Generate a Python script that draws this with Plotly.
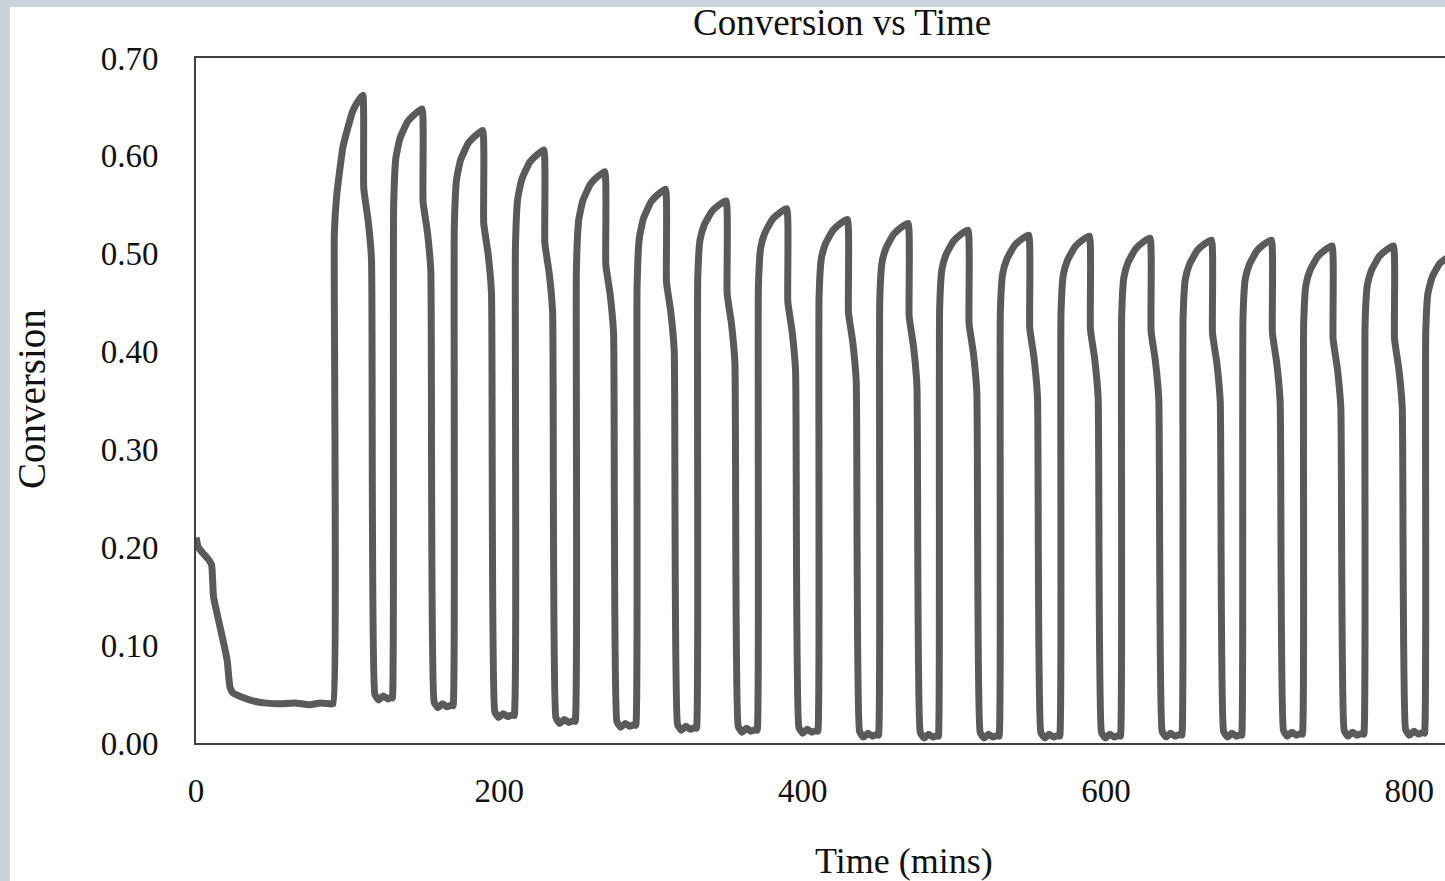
import plotly.graph_objects as go

# ---- data ----
time_min = [
    0, 1.5, 4, 8, 10.3, 11.5, 14.5, 17.8, 20.5, 22.4, 24.4, 30, 37.6, 45, 55, 65, 75, 82, 88.4,
    90.4, 91.2, 92.8, 97.0, 103.4, 107.4, 110.0, 110.6, 113.4, 115.7, 117.9, 120.4, 123.4, 126.4, 129.0,
    129.5, 130.3, 131.8, 134.5, 139.5, 144.5, 149.0, 149.7, 152.5, 154.8, 157.0, 159.5, 162.5, 165.5, 168.8,
    169.5, 170.3, 171.8, 174.5, 179.5, 184.5, 189.0, 189.7, 192.5, 194.8, 197.0, 199.5, 202.5, 205.5, 208.8,
    209.8, 210.6, 212.1, 214.8, 219.8, 224.8, 229.3, 230.0, 232.8, 235.1, 237.3, 239.8, 242.8, 245.8, 249.1,
    250.0, 250.8, 252.3, 255.0, 260.0, 265.0, 269.5, 270.2, 273.0, 275.3, 277.5, 280.0, 283.0, 286.0, 289.3,
    290.0, 290.8, 292.3, 295.0, 300.0, 305.0, 309.5, 310.2, 313.0, 315.3, 317.5, 320.0, 323.0, 326.0, 329.3,
    330.0, 330.8, 332.3, 335.0, 340.0, 345.0, 349.5, 350.2, 353.0, 355.3, 357.5, 360.0, 363.0, 366.0, 369.3,
    370.0, 370.8, 372.3, 375.0, 380.0, 385.0, 389.5, 390.2, 393.0, 395.3, 397.5, 400.0, 403.0, 406.0, 409.3,
    410.0, 410.8, 412.3, 415.0, 420.0, 425.0, 429.5, 430.2, 433.0, 435.3, 437.5, 440.0, 443.0, 446.0, 449.3,
    450.0, 450.8, 452.3, 455.0, 460.0, 465.0, 469.5, 470.2, 473.0, 475.3, 477.5, 480.0, 483.0, 486.0, 489.0,
    489.5, 490.3, 491.8, 494.5, 499.5, 504.5, 509.0, 509.7, 512.5, 514.8, 517.0, 519.5, 522.5, 525.5, 528.8,
    529.5, 530.3, 531.8, 534.5, 539.5, 544.5, 549.0, 549.7, 552.5, 554.8, 557.0, 559.5, 562.5, 565.5, 568.8,
    569.5, 570.3, 571.8, 574.5, 579.5, 584.5, 589.0, 589.7, 592.5, 594.8, 597.0, 599.5, 602.5, 605.5, 608.8,
    609.5, 610.3, 611.8, 614.5, 619.5, 624.5, 629.0, 629.7, 632.5, 634.8, 637.0, 639.5, 642.5, 645.5, 649.3,
    650.0, 650.8, 652.3, 655.0, 660.0, 665.0, 669.5, 670.2, 673.0, 675.3, 677.5, 680.0, 683.0, 686.0, 689.0,
    689.5, 690.3, 691.8, 694.5, 699.5, 704.5, 709.0, 709.7, 712.5, 714.8, 717.0, 719.5, 722.5, 725.5, 728.8,
    729.5, 730.3, 731.8, 734.5, 739.5, 744.5, 749.0, 749.7, 752.5, 754.8, 757.0, 759.5, 762.5, 765.5, 769.3,
    770.0, 770.8, 772.3, 775.0, 780.0, 785.0, 789.5, 790.2, 793.0, 795.3, 797.5, 800.0, 803.0, 806.0, 809.3,
    810.0, 810.8, 812.3, 815.0, 820.0, 826.0,
]

conversion = [
    0.210, 0.200, 0.195, 0.188, 0.182, 0.150, 0.128, 0.105, 0.085, 0.057, 0.051, 0.047, 0.043, 0.041, 0.040, 0.041, 0.039, 0.041, 0.040,
    0.040, 0.520, 0.560, 0.610, 0.646, 0.657, 0.662, 0.567, 0.535, 0.495, 0.050, 0.044, 0.048, 0.045, 0.047,
    0.046, 0.548, 0.598, 0.618, 0.635, 0.643, 0.648, 0.553, 0.523, 0.483, 0.042, 0.036, 0.040, 0.037, 0.039,
    0.038, 0.526, 0.576, 0.596, 0.613, 0.621, 0.626, 0.531, 0.501, 0.461, 0.032, 0.026, 0.030, 0.027, 0.029,
    0.028, 0.506, 0.556, 0.576, 0.593, 0.601, 0.606, 0.511, 0.481, 0.441, 0.026, 0.020, 0.024, 0.021, 0.023,
    0.022, 0.484, 0.534, 0.554, 0.571, 0.579, 0.584, 0.489, 0.459, 0.419, 0.022, 0.016, 0.020, 0.017, 0.019,
    0.018, 0.466, 0.516, 0.536, 0.553, 0.561, 0.566, 0.471, 0.441, 0.401, 0.019, 0.013, 0.017, 0.014, 0.016,
    0.015, 0.474, 0.514, 0.529, 0.543, 0.550, 0.554, 0.459, 0.429, 0.389, 0.017, 0.011, 0.015, 0.012, 0.014,
    0.013, 0.466, 0.506, 0.521, 0.535, 0.542, 0.546, 0.451, 0.421, 0.381, 0.016, 0.010, 0.014, 0.011, 0.013,
    0.012, 0.455, 0.495, 0.510, 0.524, 0.531, 0.535, 0.440, 0.410, 0.370, 0.012, 0.006, 0.010, 0.007, 0.009,
    0.008, 0.451, 0.491, 0.506, 0.520, 0.527, 0.531, 0.436, 0.406, 0.366, 0.011, 0.005, 0.009, 0.006, 0.008,
    0.007, 0.444, 0.484, 0.499, 0.513, 0.520, 0.524, 0.429, 0.399, 0.359, 0.011, 0.005, 0.009, 0.006, 0.008,
    0.007, 0.439, 0.479, 0.494, 0.508, 0.515, 0.519, 0.424, 0.394, 0.354, 0.011, 0.005, 0.009, 0.006, 0.008,
    0.007, 0.438, 0.478, 0.493, 0.507, 0.514, 0.518, 0.423, 0.393, 0.353, 0.011, 0.005, 0.009, 0.006, 0.008,
    0.007, 0.436, 0.476, 0.491, 0.505, 0.512, 0.516, 0.421, 0.391, 0.351, 0.012, 0.006, 0.010, 0.007, 0.009,
    0.008, 0.434, 0.474, 0.489, 0.503, 0.510, 0.514, 0.419, 0.389, 0.349, 0.012, 0.006, 0.010, 0.007, 0.009,
    0.008, 0.434, 0.474, 0.489, 0.503, 0.510, 0.514, 0.419, 0.389, 0.349, 0.013, 0.007, 0.011, 0.008, 0.010,
    0.009, 0.428, 0.468, 0.483, 0.497, 0.504, 0.508, 0.413, 0.383, 0.343, 0.013, 0.007, 0.011, 0.008, 0.010,
    0.009, 0.428, 0.468, 0.483, 0.497, 0.504, 0.508, 0.413, 0.383, 0.343, 0.014, 0.008, 0.012, 0.009, 0.011,
    0.010, 0.420, 0.460, 0.476, 0.490, 0.497,
]

x_tick_values = [0, 200, 400, 600, 800]
x_tick_labels = ["0", "200", "400", "600", "800"]
y_tick_values = [0.0, 0.1, 0.2, 0.3, 0.4, 0.5, 0.6, 0.7]
y_tick_labels = ["0.00", "0.10", "0.20", "0.30", "0.40", "0.50", "0.60", "0.70"]

chart_title = "Conversion vs Time"
x_title = "Time (mins)"
y_title = "Conversion"

# ---- figure ----
W, H = 1445, 881
L_M, R_M, T_M, B_M = 196, 0, 58, 138
plot_w = W - L_M - R_M
plot_h = H - T_M - B_M

def px_x(px):
    return (px - L_M) / plot_w

def px_y(py):
    return (H - B_M - py) / plot_h

serif = "Liberation Serif, Times New Roman, serif"
border = "#c9d3db"
ink = "#111111"

fig = go.Figure()
fig.add_trace(go.Scatter(
    x=time_min, y=conversion, mode="lines",
    line=dict(color="#5a5a5a", width=7, shape="spline", smoothing=0.4),
    hoverinfo="x+y", showlegend=False,
))

fig.update_layout(
    width=W, height=H,
    margin=dict(l=L_M, r=R_M, t=T_M, b=B_M, pad=0),
    paper_bgcolor=border,
    plot_bgcolor="white",
    font=dict(family=serif, color=ink),
    showlegend=False,
    shapes=[dict(
        type="rect", xref="paper", yref="paper", layer="below",
        x0=px_x(10), x1=px_x(W + 20), y0=px_y(H + 20), y1=px_y(7),
        fillcolor="white", line=dict(width=0),
    )],
    annotations=[
        dict(text=chart_title, xref="paper", yref="paper",
             x=px_x(842), y=px_y(22), xanchor="center", yanchor="middle",
             showarrow=False, font=dict(family=serif, size=37, color=ink)),
        dict(text=x_title, xref="paper", yref="paper",
             x=px_x(904), y=px_y(861), xanchor="center", yanchor="middle",
             showarrow=False, font=dict(family=serif, size=36, color=ink)),
        dict(text=y_title, xref="paper", yref="paper", textangle=-90,
             x=px_x(31), y=px_y(399), xanchor="center", yanchor="middle",
             showarrow=False, font=dict(family=serif, size=39, color=ink)),
    ],
)

fig.update_xaxes(
    range=[0, 823.5], tickmode="array", tickvals=x_tick_values, ticktext=x_tick_labels,
    showgrid=False, zeroline=False, showline=True, linecolor="#404040", linewidth=2,
    mirror=True, ticks="", ticklabelstandoff=17,
    tickfont=dict(family=serif, size=33, color=ink),
)
fig.update_yaxes(
    range=[0, 0.70], tickmode="array", tickvals=y_tick_values, ticktext=y_tick_labels,
    showgrid=False, zeroline=False, showline=True, linecolor="#404040", linewidth=2,
    mirror=False, ticks="", ticklabelstandoff=29,
    tickfont=dict(family=serif, size=33, color=ink),
)

fig.write_html(
    "out.html",
    config={"displayModeBar": False},
    post_script="document.body.style.margin='0';document.body.style.padding='0';"
                "document.documentElement.style.overflow='hidden';",
)
